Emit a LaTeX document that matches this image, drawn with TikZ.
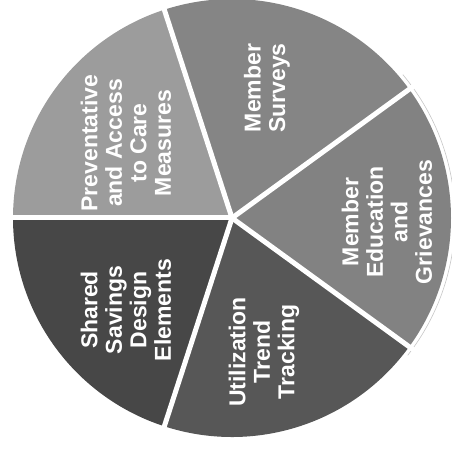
\documentclass[tikz,border=0pt]{standalone}
\usepackage{fontspec}
\setmainfont{Liberation Sans}
\usetikzlibrary{calc}
\begin{document}
\begin{tikzpicture}[x=1pt,y=1pt,
  lbl/.style={text=white, rotate=90, align=center, inner sep=0pt,
    font=\bfseries\fontsize{23}{24.5}\selectfont},
  sep/.style={white, line width=5pt},
  ]
\useasboundingbox (0,0) rectangle (451,455);
\def\R{219}
\coordinate (C) at (232,237);
% slices
\fill[gray!78] (C) -- ++(108:\R) arc[start angle=108, end angle=180, radius=\R] -- cycle;
\fill[gray!96] (C) -- ++(36:\R) arc[start angle=36, end angle=108, radius=\R] -- cycle;
\fill[gray!98] (C) -- ++(-36:\R) arc[start angle=-36, end angle=36, radius=\R] -- cycle;
\fill[black!66] (C) -- ++(-108:\R) arc[start angle=-108, end angle=-36, radius=\R] -- cycle;
\fill[black!72] (C) -- ++(180:\R) arc[start angle=180, end angle=252, radius=\R] -- cycle;
% faint outer outline on the right
\draw[gray!45, line width=0.6pt] (C) ++(40:{\R+4}) arc[start angle=40, end angle=-38, radius={\R+4}];
% separators
\coordinate (s1) at ($(C)+(108:\R+8)$);
\coordinate (s2) at ($(C)+(36:\R+8)$);
\coordinate (s3) at ($(C)+(-36:\R+8)$);
\coordinate (s4) at ($(C)+(-108:\R+8)$);
\coordinate (s5) at ($(C)+(180:\R+8)$);
\foreach \s in {s1,s2,s3,s4,s5} \draw[sep] (C) -- (\s);
% labels
\node[lbl] (prev) at (126,312) {Preventative\\and Access\\to Care\\Measures};
\node[lbl] (surv) at (267,367) {Member\\Surveys};
\node[lbl] (educ) at (387,233) {Member\\Education\\and\\Grievances};
\node[lbl] (util) at (264,103) {Utilization\\Trend\\Tracking};
\node[lbl] (shar) at (126,145) {Shared\\Savings\\Design\\Elements};
\end{tikzpicture}
\end{document}
